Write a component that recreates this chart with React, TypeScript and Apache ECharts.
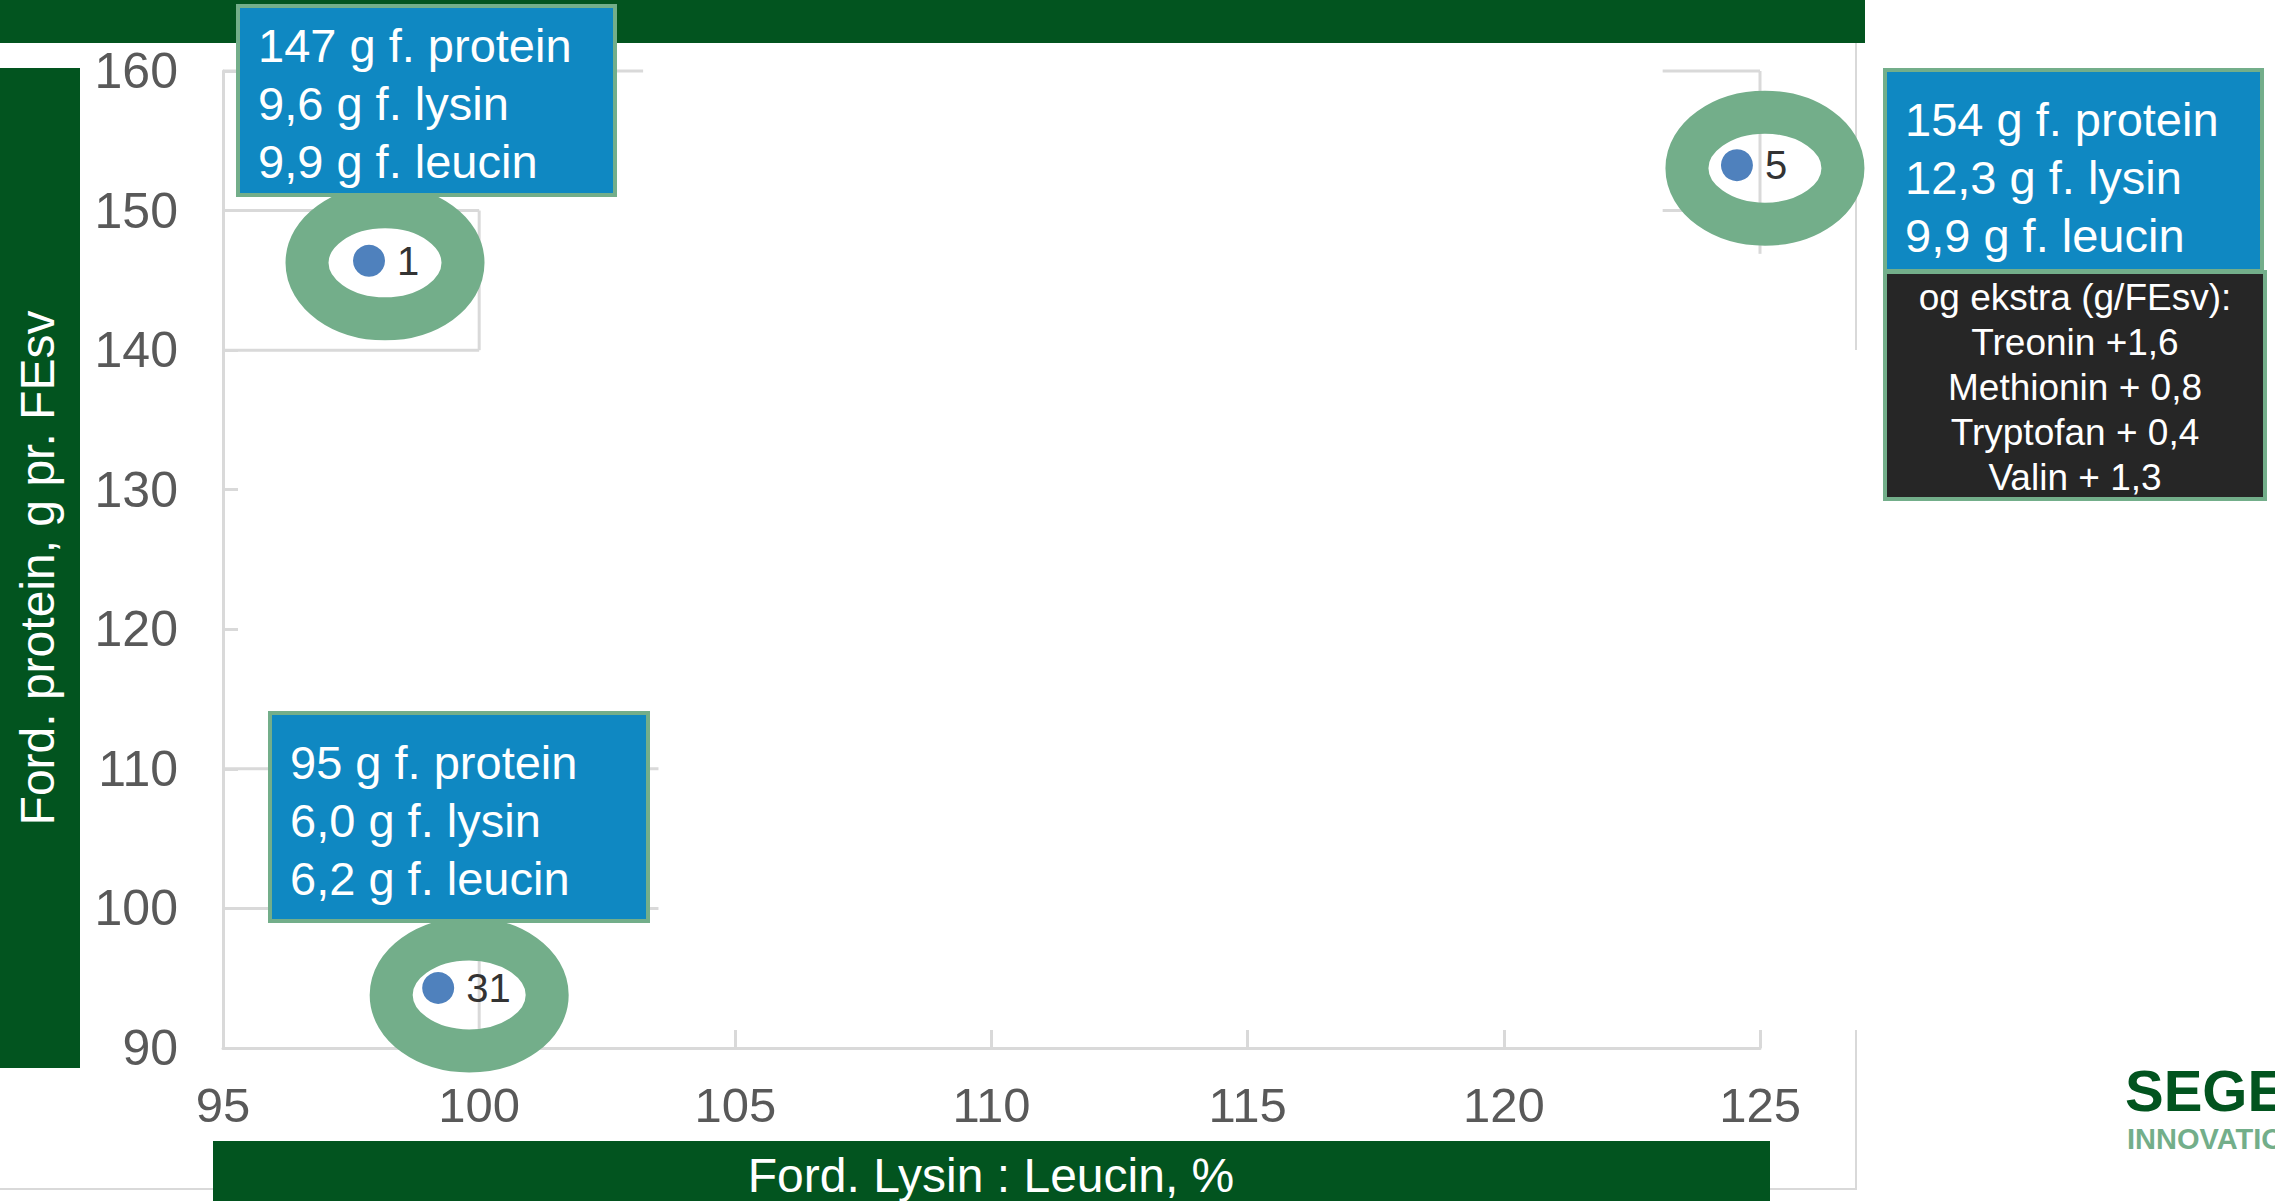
import React, { useEffect, useRef } from "react";
import * as echarts from "echarts";

const W = 2275;
const H = 1201;

// ---- data ----
const pointLabels = ["1", "5", "31"];
const lysinLeucinPct = [97.85, 124.55, 99.2];
const proteinPerFEsv = [146.4, 153.25, 94.3];

const xMin = 95;
const xMax = 125;
const xStep = 5;
const yMin = 90;
const yMax = 160;
const yStep = 10;

const xTitle = "Ford. Lysin : Leucin, %";
const yTitle = "Ford. protein, g pr. FEsv";

const box1Lines = ["147 g f. protein", "9,6 g f. lysin", "9,9 g f. leucin"];
const box5Lines = ["154 g f. protein", "12,3 g f. lysin", "9,9 g f. leucin"];
const box31Lines = ["95 g f. protein", "6,0 g f. lysin", "6,2 g f. leucin"];
const extraLines = [
  "og ekstra (g/FEsv):",
  "Treonin +1,6",
  "Methionin + 0,8",
  "Tryptofan + 0,4",
  "Valin + 1,3",
];

// remaining visible grid-line pieces [x1, y1, x2, y2] in data units
const gridPieces = [
  [95, 160, 103.2, 160],
  [95, 150, 100, 150],
  [100, 150, 100, 140],
  [95, 140, 100, 140],
  [123.1, 160, 125, 160],
  [125, 160, 125, 146.9],
  [123.1, 150, 124.0, 150],
  [95, 110, 103.5, 110],
  [95, 100, 103.5, 100],
  [100, 100, 100, 90],
];

// ---- styles ----
const ringOffsets = [
  [16, 2],
  [28, 3],
  [31, 7],
];
const FONT = '"Liberation Sans", Arial, sans-serif';
const GREEN_DARK = "#02541f";
const GREEN_LIGHT = "#73ae8a";
const BLUE_BOX = "#0f88c2";
const BLACK_BOX = "#262626";
const GRID_GREY = "#d9d9d9";
const LABEL_GREY = "#595959";

function box(
  x: number,
  y: number,
  w: number,
  h: number,
  fill: string,
  lines: string[],
  tx: number,
  ty: number,
  fontSize: number,
  lineHeight: number,
  align: string
) {
  return [
    {
      type: "rect",
      z: 100,
      shape: { x, y, width: w, height: h },
      style: { fill, stroke: GREEN_LIGHT, lineWidth: 4 },
    },
    {
      type: "text",
      z: 101,
      x: tx,
      y: ty,
      style: {
        text: lines.join("\n"),
        fill: "#ffffff",
        fontSize,
        fontFamily: FONT,
        lineHeight,
        align,
        verticalAlign: "top",
      },
    },
  ];
}

export default function App() {
  const ref = useRef<HTMLDivElement>(null);

  useEffect(() => {
    const chart = echarts.init(ref.current!, null, {
      renderer: "svg",
      width: W,
      height: H,
    });

    const points = lysinLeucinPct.map((x, i) => [x, proteinPerFEsv[i], pointLabels[i]]);

    const graphic: any[] = [
      // frame lines of the original chart area
      {
        type: "line",
        z: 0,
        shape: { x1: 1856, y1: 43, x2: 1856, y2: 350 },
        style: { stroke: GRID_GREY, lineWidth: 2 },
      },
      {
        type: "line",
        z: 0,
        shape: { x1: 1856, y1: 1030, x2: 1856, y2: 1190 },
        style: { stroke: GRID_GREY, lineWidth: 2 },
      },
      {
        type: "line",
        z: 0,
        shape: { x1: 0, y1: 1189, x2: 1856, y2: 1189 },
        style: { stroke: GRID_GREY, lineWidth: 2 },
      },
      // title banner
      {
        type: "rect",
        z: 50,
        shape: { x: 0, y: 0, width: 1865, height: 43 },
        style: { fill: GREEN_DARK },
      },
      // y axis title banner
      {
        type: "rect",
        z: 50,
        shape: { x: 0, y: 68, width: 80, height: 1000 },
        style: { fill: GREEN_DARK },
      },
      {
        type: "text",
        z: 51,
        x: 37,
        y: 568,
        rotation: Math.PI / 2,
        style: {
          text: yTitle,
          fill: "#ffffff",
          fontSize: 48,
          fontFamily: FONT,
          align: "center",
          verticalAlign: "middle",
        },
      },
      // x axis title banner
      {
        type: "rect",
        z: 50,
        shape: { x: 213, y: 1141, width: 1557, height: 60 },
        style: { fill: GREEN_DARK },
      },
      {
        type: "text",
        z: 51,
        x: 991,
        y: 1175,
        style: {
          text: xTitle,
          fill: "#ffffff",
          fontSize: 48,
          fontFamily: FONT,
          align: "center",
          verticalAlign: "middle",
        },
      },
      ...box(238, 6, 377, 189, BLUE_BOX, box1Lines, 258, 16, 47, 58, "left"),
      ...box(1885, 70, 377, 201, BLUE_BOX, box5Lines, 1905, 90, 47, 58, "left"),
      ...box(1885, 272, 380, 227, BLACK_BOX, extraLines, 2075, 275, 37, 45, "center"),
      ...box(270, 713, 378, 208, BLUE_BOX, box31Lines, 290, 733, 47, 58, "left"),
      // logo
      {
        type: "text",
        z: 60,
        x: 2125,
        y: 1090,
        style: {
          text: "SEGES",
          fill: GREEN_DARK,
          fontSize: 58,
          lineHeight: 50,
          fontWeight: "bold",
          fontFamily: FONT,
          align: "left",
          verticalAlign: "middle",
        },
      },
      {
        type: "text",
        z: 60,
        x: 2127,
        y: 1139,
        style: {
          text: "INNOVATION",
          fill: GREEN_LIGHT,
          fontSize: 29,
          lineHeight: 24,
          fontWeight: "bold",
          fontFamily: FONT,
          align: "left",
          verticalAlign: "middle",
        },
      },
    ];

    const option: any = {
      animation: false,
      backgroundColor: "#ffffff",
      grid: { left: 223, right: W - 1760, top: 71, bottom: H - 1048, containLabel: false },
      xAxis: {
        type: "value",
        min: xMin,
        max: xMax,
        interval: xStep,
        splitLine: { show: false },
        axisLine: { show: true, lineStyle: { color: GRID_GREY, width: 3 } },
        axisTick: { show: true, inside: true, length: 18, lineStyle: { color: GRID_GREY, width: 3 } },
        axisLabel: { color: LABEL_GREY, fontSize: 49, fontFamily: FONT, margin: 32 },
      },
      yAxis: {
        type: "value",
        min: yMin,
        max: yMax,
        interval: yStep,
        splitLine: { show: false },
        axisLine: { show: true, lineStyle: { color: GRID_GREY, width: 3 } },
        axisTick: { show: true, inside: true, length: 15, lineStyle: { color: GRID_GREY, width: 3 } },
        axisLabel: { color: LABEL_GREY, fontSize: 50, fontFamily: FONT, margin: 45 },
      },
      graphic,
      series: [
        {
          type: "custom",
          z: 1,
          clip: false,
          silent: true,
          data: gridPieces,
          renderItem: (params: any, api: any) => {
            const p1 = api.coord([api.value(0), api.value(1)]);
            const p2 = api.coord([api.value(2), api.value(3)]);
            return {
              type: "line",
              shape: { x1: p1[0], y1: p1[1], x2: p2[0], y2: p2[1] },
              style: { stroke: GRID_GREY, lineWidth: 3 },
            };
          },
        },
        {
          type: "custom",
          z: 3,
          clip: false,
          silent: true,
          data: points.map((p) => [p[0], p[1]]),
          renderItem: (params: any, api: any) => {
            const c = api.coord([api.value(0), api.value(1)]);
            const off = ringOffsets[params.dataIndex];
            return {
              type: "ellipse",
              shape: { cx: c[0] + off[0], cy: c[1] + off[1], rx: 78, ry: 56 },
              style: { fill: "none", stroke: GREEN_LIGHT, lineWidth: 43 },
            };
          },
        },
        {
          type: "scatter",
          z: 4,
          data: points,
          symbol: "circle",
          symbolSize: 32,
          itemStyle: { color: "#4f81bd", opacity: 1 },
          label: {
            show: true,
            position: "right",
            distance: 12,
            formatter: (p: any) => p.data[2],
            color: "#333333",
            fontSize: 40,
            fontFamily: FONT,
          },
        },
      ],
    };

    chart.setOption(option);
    return () => chart.dispose();
  }, []);

  return (
    <div
      ref={ref}
      style={{ position: "fixed", left: 0, top: 0, width: W, height: H, background: "#ffffff" }}
    />
  );
}
